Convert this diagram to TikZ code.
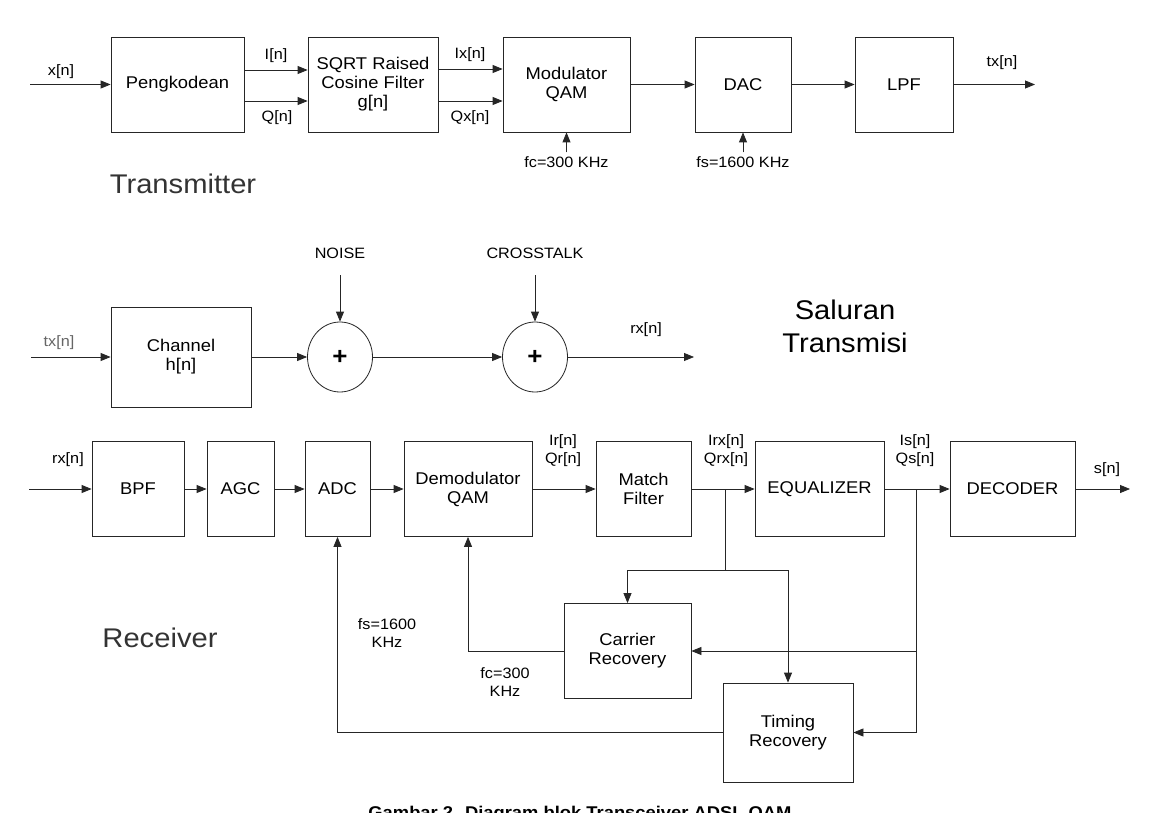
\documentclass[tikz,border=0pt]{standalone}
\usepackage{fontspec}
\setmainfont[FakeStretch=1.08]{Liberation Sans}
\usetikzlibrary{arrows.meta,shapes.geometric}
\begin{document}
\begin{tikzpicture}[x=1pt,y=-1pt,
  blk/.style={draw=black!85, line width=0.8pt, inner sep=0pt, minimum height=95pt, align=center, font=\fontsize{17}{19}\selectfont},
  sum/.style={draw=black!85, line width=0.8pt, ellipse, inner sep=0pt, minimum width=65pt, minimum height=70pt, font=\bfseries\fontsize{24}{24}\selectfont},
  sig/.style={font=\fontsize{15}{18}\selectfont, inner sep=0pt, align=center},
  big/.style={font=\fontsize{27}{33}\selectfont, align=center, text=black!80, inner sep=0pt},
  conn/.style={draw=black!85, line width=0.8pt},
  arr/.style={conn, -{Triangle[length=10pt,width=8pt]}},
]
\useasboundingbox (0,0) rectangle (1156,813);
\clip (0,0) rectangle (1156,813);
\fill[white] (0,0) rectangle (1156,813);

% ---------------- Transmitter ----------------
\node[blk, minimum width=133pt] (peng) at (177.5,84.5) {Pengkodean};
\node[blk, minimum width=130pt] (sqrt) at (373,84.5) {SQRT Raised\\Cosine Filter\\g[n]};
\node[blk, minimum width=127pt] (mod) at (566.5,84.5) {Modulator\\QAM};
\node[blk, minimum width=96pt] (dac) at (743,84.5) {DAC};
\node[blk, minimum width=98pt] (lpf) at (904,84.5) {LPF};
\coordinate (xin) at (30,84.5);
\coordinate (txout) at (1035,84.5);

\draw[arr] (xin) -- (peng.west);
\draw[arr] ([yshift=14.5pt]peng.east) -- ([yshift=14.5pt]sqrt.west);
\draw[arr] ([yshift=-16.5pt]peng.east) -- ([yshift=-16.5pt]sqrt.west);
\draw[arr] ([yshift=15.5pt]sqrt.east) -- ([yshift=15.5pt]mod.west);
\draw[arr] ([yshift=-16.5pt]sqrt.east) -- ([yshift=-16.5pt]mod.west);
\draw[arr] (mod.east) -- (dac.west);
\draw[arr] (dac.east) -- (lpf.west);
\draw[arr] (lpf.east) -- (txout);

\node[sig] (lx) at (61,72) {x[n]};
\node[sig] (li) at (276,56) {I[n]};
\node[sig] (lq) at (277,118) {Q[n]};
\node[sig] (lix) at (470,55) {Ix[n]};
\node[sig] (lqx) at (470,118) {Qx[n]};
\node[sig] (ltx) at (1002,63) {tx[n]};

\node[sig] (fc) at (566.5,162) {fc=300 KHz};
\node[sig] (fs) at (743,162) {fs=1600 KHz};
\draw[arr] ([yshift=4pt]fc.north) -- (mod.south);
\draw[arr] ([yshift=4pt]fs.north) -- (dac.south);

\node[big] (ttx) at (183,184) {Transmitter};

% ---------------- Channel ----------------
\node[blk, minimum width=140pt, minimum height=100pt] (chan) at (181,357) {Channel\\h[n]};
\node[sum] (s1) at (340,357) {+};
\node[sum] (s2) at (535,357) {+};
\coordinate (cin) at (31,357);
\coordinate (rxout) at (694,357);
\coordinate (n1) at (340,275);
\coordinate (n2) at (535,275);
\node[sig] (noise) at (340,253) {NOISE};
\node[sig] (cross) at (535,253) {CROSSTALK};
\draw[arr] (n1) -- (s1.north);
\draw[arr] (n2) -- (s2.north);
\draw[arr] (cin) -- (chan.west);
\draw[arr] (chan.east) -- (s1.west);
\draw[arr] (s1.east) -- (s2.west);
\draw[arr] (s2.east) -- (rxout);
\node[sig, text=black!60] (lcin) at (59,343) {tx[n]};
\node[sig] (lrx) at (646,330) {rx[n]};
\node[big, text=black] (sal) at (845,326) {Saluran\\Transmisi};

% ---------------- Receiver ----------------
\node[blk, minimum width=92pt] (bpf) at (138,489) {BPF};
\node[blk, minimum width=67pt] (agc) at (240.5,489) {AGC};
\node[blk, minimum width=65pt] (adc) at (337.5,489) {ADC};
\node[blk, minimum width=128pt] (dem) at (468,489) {Demodulator\\QAM};
\node[blk, minimum width=95pt] (mf) at (643.5,489) {Match\\Filter};
\node[blk, minimum width=129pt] (eq) at (819.5,489) {EQUALIZER};
\node[blk, minimum width=125pt] (dec) at (1012.5,489) {DECODER};
\node[blk, minimum width=127pt] (car) at (627.5,651) {Carrier\\Recovery};
\node[blk, minimum width=130pt, minimum height=99pt] (tim) at (788,732.5) {Timing\\Recovery};

\coordinate (rin) at (29,489);
\coordinate (sout) at (1130,489);
\draw[arr] (rin) -- (bpf.west);
\draw[arr] (bpf.east) -- (agc.west);
\draw[arr] (agc.east) -- (adc.west);
\draw[arr] (adc.east) -- (dem.west);
\draw[arr] (dem.east) -- (mf.west);
\draw[arr] (mf.east) -- (eq.west);
\draw[arr] (eq.east) -- (dec.west);
\draw[arr] (dec.east) -- (sout);

\node[sig] (lrin) at (68,460) {rx[n]};
\node[sig] (lir) at (563,451) {Ir[n]\\Qr[n]};
\node[sig] (lirx) at (726,451) {Irx[n]\\Qrx[n]};
\node[sig] (lis) at (915,451) {Is[n]\\Qs[n]};
\node[sig] (ls) at (1107,470) {s[n]};

% feedback
\coordinate (b1) at (725,489);
\coordinate (b1d) at (725,570);
\coordinate (cl) at (car.north |- b1d);
\coordinate (tr) at (tim.north |- b1d);
\coordinate (b2) at (916,489);
\coordinate (b2c) at (b2 |- car.east);
\coordinate (b2t) at (b2 |- tim.east);
\draw[conn] (b1) -- (b1d);
\draw[conn] (cl) -- (tr);
\draw[arr] (cl) -- (car.north);
\draw[arr] (tr) -- (tim.north);
\draw[conn] (b2) -- (b2t);
\draw[arr] (b2c) -- (car.east);
\draw[arr] (b2t) -- (tim.east);
\draw[arr] (car.west) -| (dem.south);
\draw[arr] (tim.west) -| (adc.south);

\node[sig] (lfs) at (387,633) {fs=1600\\KHz};
\node[sig] (lfc) at (505,682) {fc=300\\KHz};
\node[big] (rcv) at (160,638) {Receiver};

\node[anchor=north, inner sep=0pt, font=\bfseries\fontsize{17}{20}\selectfont] (cap) at (580,806) {Gambar 2. Diagram blok Transceiver ADSL QAM};
\end{tikzpicture}
\end{document}
